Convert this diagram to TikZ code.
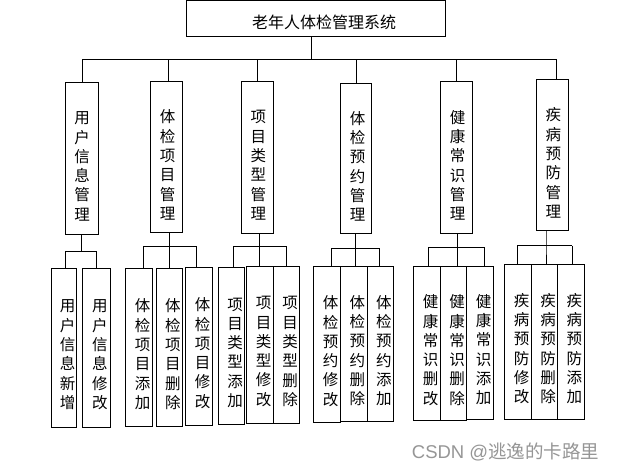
\documentclass[tikz,border=0pt]{standalone}
\usepackage{fontspec}
\newfontfamily\cjk{Noto Sans CJK SC}
\newfontfamily\wmlatin{Liberation Sans}
\definecolor{wmgray}{RGB}{150,150,150}
\tikzset{
  boxshape/.style={draw=black, line width=1pt, rectangle, inner sep=0pt},
  vtext/.style={font=\cjk\fontsize{15.5}{19.3}\selectfont, align=center, inner sep=0pt},
  conn/.style={draw=black, line width=1pt},
}
\newcommand\mkbox[7]{%
  \node[boxshape, minimum width={#3-#2}, minimum height={#5-#4}] (#1) at ({(#2+#3)/2},{(#4+#5)/2}) {};
  \node[vtext] at ([shift={#7}]#1.center) {#6};}
\begin{document}
\begin{tikzpicture}[x=1pt,y=-1pt]
\useasboundingbox (0,0) rectangle (618,471);
\fill[white] (0,0) rectangle (618,471);
% top
\node[boxshape, minimum width=259.4, minimum height=35.4] (top) at (316,18.3) {};
\node[font=\cjk\fontsize{16}{16}\selectfont, inner sep=0pt] at ([shift={(8,3.7)}]top.center) {老年人体检管理系统};
% level 2
\mkbox{B1}{65.7}{98.7}{82.7}{234}{用\\户\\信\\息\\管\\理}{(0,8)}
\mkbox{B2}{150.3}{182.7}{81.7}{232.3}{体\\检\\项\\目\\管\\理}{(1,8)}
\mkbox{B3}{241.3}{273.3}{81.3}{233.3}{项\\目\\类\\型\\管\\理}{(1,8)}
\mkbox{B4}{340.7}{371.3}{83.3}{233.3}{体\\检\\预\\约\\管\\理}{(1.5,8)}
\mkbox{B5}{440.7}{472.7}{81.3}{233.3}{健\\康\\常\\识\\管\\理}{(1,8)}
\mkbox{B6}{536.7}{568.7}{79.3}{230.7}{疾\\病\\预\\防\\管\\理}{(0.6,8)}
% leaves
\mkbox{L1}{51.7}{76.3}{268.3}{427.3}{用\\户\\信\\息\\新\\增}{(3.5,7)}
\mkbox{L2}{82.3}{110.3}{268.3}{427.3}{用\\户\\信\\息\\修\\改}{(3.5,7)}
\mkbox{L3}{125.7}{152.3}{268.3}{426.3}{体\\检\\项\\目\\添\\加}{(3.5,7)}
\mkbox{L4}{156.3}{182.3}{268.3}{426.3}{体\\检\\项\\目\\删\\除}{(3.5,7)}
\mkbox{L5}{185.7}{212.3}{267.3}{425}{体\\检\\项\\目\\修\\改}{(3.5,7)}
\mkbox{L6}{218.3}{244.7}{267.3}{424.3}{项\\目\\类\\型\\添\\加}{(3.5,7)}
\mkbox{L7}{246.3}{273.7}{266}{423}{项\\目\\类\\型\\修\\改}{(3.5,7)}
\mkbox{L8}{273.7}{299.7}{266}{423}{项\\目\\类\\型\\删\\除}{(3.5,7)}
\mkbox{L9}{313.7}{340.3}{266}{422.3}{体\\检\\预\\约\\修\\改}{(3.5,7)}
\mkbox{L10}{340.3}{367.3}{266}{421}{体\\检\\预\\约\\删\\除}{(3.5,7)}
\mkbox{L11}{367.3}{393.3}{266}{421}{体\\检\\预\\约\\添\\加}{(3.5,7)}
\mkbox{L12}{413.3}{440.7}{266}{420.3}{健\\康\\常\\识\\删\\改}{(3.5,7)}
\mkbox{L13}{440.7}{466.7}{266}{420.3}{健\\康\\常\\识\\删\\除}{(3.5,7)}
\mkbox{L14}{466.7}{493.3}{266}{419}{健\\康\\常\\识\\添\\加}{(3.5,7)}
\mkbox{L15}{504.3}{531.7}{264}{419}{疾\\病\\预\\防\\修\\改}{(3.5,7)}
\mkbox{L16}{531.7}{557.3}{264}{419}{疾\\病\\预\\防\\删\\除}{(3.5,7)}
\mkbox{L17}{557.3}{584.3}{264}{419}{疾\\病\\预\\防\\添\\加}{(3.5,7)}
% top bus
\coordinate (tm) at (311.7,59.3);
\coordinate (t1) at (82.3,59.3);
\coordinate (t2) at (168.7,59.3);
\coordinate (t3) at (257.7,59.3);
\coordinate (t4) at (356.7,59.3);
\coordinate (t5) at (456.3,59.3);
\coordinate (t6) at (556,59.3);
\draw[conn] (top.south -| tm) -- (tm);
\draw[conn] (t1) -- (t6);
\draw[conn] (t1) -- (t1 |- B1.north);
\draw[conn] (t2) -- (t2 |- B2.north);
\draw[conn] (t3) -- (t3 |- B3.north);
\draw[conn] (t4) -- (t4 |- B4.north);
\draw[conn] (t5) -- (t5 |- B5.north);
\draw[conn] (t6) -- (t6 |- B6.north);
% subtree 1
\coordinate (m1) at (81.7,251);
\coordinate (a1) at (65.3,251);
\coordinate (b1) at (96.3,251);
\draw[conn] (B1.south -| m1) -- (m1);
\draw[conn] (a1) -- (b1);
\draw[conn] (a1) -- (a1 |- L1.north);
\draw[conn] (b1) -- (b1 |- L2.north);
% subtree 2
\coordinate (m2) at (169.3,246);
\coordinate (a2) at (143.3,246);
\coordinate (b2) at (196.3,246);
\draw[conn] (B2.south -| m2) -- (m2) -- (m2 |- L4.north);
\draw[conn] (a2) -- (b2);
\draw[conn] (a2) -- (a2 |- L3.north);
\draw[conn] (b2) -- (b2 |- L5.north);
% subtree 3
\coordinate (m3) at (259.3,246);
\coordinate (a3) at (233.3,246);
\coordinate (b3) at (286.3,246);
\draw[conn] (B3.south -| m3) -- (m3) -- (m3 |- L7.north);
\draw[conn] (a3) -- (b3);
\draw[conn] (a3) -- (a3 |- L6.north);
\draw[conn] (b3) -- (b3 |- L8.north);
% subtree 4
\coordinate (m4) at (355.3,248.3);
\coordinate (a4) at (331.7,248.3);
\coordinate (b4) at (379.3,248.3);
\draw[conn] (B4.south -| m4) -- (m4) -- (m4 |- L10.north);
\draw[conn] (a4) -- (b4);
\draw[conn] (a4) -- (a4 |- L9.north);
\draw[conn] (b4) -- (b4 |- L11.north);
% subtree 5
\coordinate (m5) at (457.3,247.3);
\coordinate (a5) at (428.7,247.3);
\coordinate (b5) at (484.3,247.3);
\draw[conn] (B5.south -| m5) -- (m5) -- (m5 |- L13.north);
\draw[conn] (a5) -- (b5);
\draw[conn] (a5) -- (a5 |- L12.north);
\draw[conn] (b5) -- (b5 |- L14.north);
% subtree 6
\coordinate (m6) at (546,245.7);
\coordinate (a6) at (517.3,245.7);
\coordinate (b6) at (572.3,245.7);
\draw[conn] (B6.south -| m6) -- (m6) -- (m6 |- L16.north);
\draw[conn] (a6) -- (b6);
\draw[conn] (a6) -- (a6 |- L15.north);
\draw[conn] (b6) -- (b6 |- L17.north);
% watermark
\node[text=wmgray, inner sep=0pt, anchor=west] (wm) at (411.7,451.7) {\fontsize{18.5}{18.5}\selectfont\wmlatin CSDN @\cjk 逃逸的卡路里};
\end{tikzpicture}
\end{document}
